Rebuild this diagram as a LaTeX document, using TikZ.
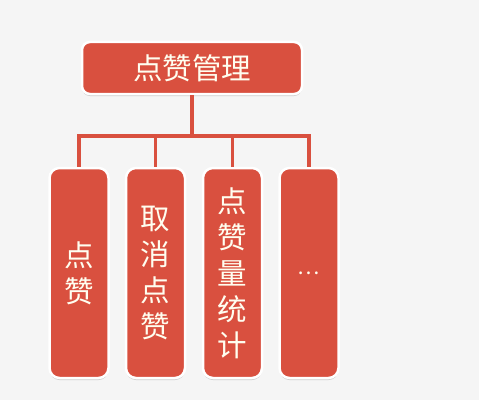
\documentclass[tikz,border=0pt]{standalone}
\usepackage{fontspec}
\setmainfont{Noto Sans CJK SC}
\usetikzlibrary{shadows}
\definecolor{zanred}{HTML}{D9503F}
\definecolor{bgray}{HTML}{F5F5F5}
\tikzset{
  zanbox/.style={fill=zanred,draw=white,line width=2.5pt,rounded corners=10pt,
    drop shadow={shadow xshift=0pt,shadow yshift=-2pt,opacity=.35},
    text=white!94!yellow,inner sep=0pt,font=\zi},
  zanline/.style={draw=zanred,line width=3.5pt}
}
\def\zi{\fontsize{29.5}{36}\selectfont}
\begin{document}
\begin{tikzpicture}[x=1pt,y=1pt]
\fill[bgray] (0,0) rectangle (479,400);
\useasboundingbox (0,0) rectangle (479,400);
\node[zanbox,rounded corners=8pt,minimum width=220pt,minimum height=52pt] (gl) at (192,332) {点赞管理};
\node[zanbox,minimum width=59pt,minimum height=210pt,align=center] (dz) at (79,127) {点\\赞};
\node[zanbox,minimum width=59pt,minimum height=210pt,align=center] (qx) at (155.5,127) {取\\消\\点\\赞};
\node[zanbox,minimum width=59pt,minimum height=210pt,align=center] (tj) at (232.5,127) {点\\赞\\量\\统\\计};
\node[zanbox,minimum width=59pt,minimum height=210pt,font=\fontsize{21}{24}\selectfont] (qt) at (309,127) {…};
\coordinate (fen) at (192,264);
\draw[zanline] (gl.south) -- (fen);
\draw[zanline] (fen) -| (dz.north);
\draw[zanline] (fen) -| (qx.north);
\draw[zanline] (fen) -| (tj.north);
\draw[zanline] (fen) -| (qt.north);
\end{tikzpicture}
\end{document}
